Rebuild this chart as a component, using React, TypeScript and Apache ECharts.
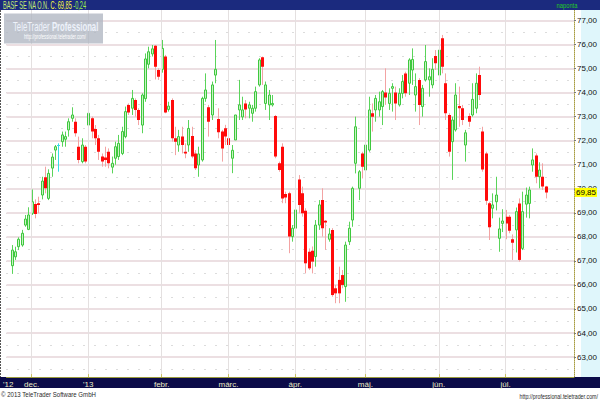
import React, { useEffect, useRef } from 'react';
import * as echarts from 'echarts';

// ---- categories: trading days (Xetra) ----
const TRADING_DAYS: [string, number[]][] = [
  ['2012-11', [23, 26, 27, 28, 29, 30]],
  ['2012-12', [3, 4, 5, 6, 7, 10, 11, 12, 13, 14, 17, 18, 19, 20, 21, 27, 28]],
  ['2013-01', [2, 3, 4, 7, 8, 9, 10, 11, 14, 15, 16, 17, 18, 21, 22, 23, 24, 25, 28, 29, 30, 31]],
  ['2013-02', [1, 4, 5, 6, 7, 8, 11, 12, 13, 14, 15, 18, 19, 20, 21, 22, 25, 26, 27, 28]],
  ['2013-03', [1, 4, 5, 6, 7, 8, 11, 12, 13, 14, 15, 18, 19, 20, 21, 22, 25, 26, 27, 28]],
  ['2013-04', [2, 3, 4, 5, 8, 9, 10, 11, 12, 15, 16, 17, 18, 19, 22, 23, 24, 25, 26, 29, 30]],
  ['2013-05', [2, 3, 6, 7, 8, 9, 10, 13, 14, 15, 16, 17, 20, 21, 22, 23, 24, 27, 28, 29, 30, 31]],
  ['2013-06', [3, 4, 5, 6, 7, 10, 11, 12, 13, 14, 17, 18, 19, 20, 21, 24, 25, 26, 27, 28]],
  ['2013-07', [1, 2, 3, 4, 5, 8, 9, 10, 11, 12, 15, 16, 17]],
];
const LEAD_DAYS = ['2012-11-22'];
const TRAIL_DAYS = ['2013-07-18', '2013-07-19', '2013-07-22', '2013-07-23', '2013-07-24', '2013-07-25', '2013-07-26', '2013-07-29'];

const MONTH_LABELS: Record<string, string> = {
  '2012-11-22': "'12",
  '2012-12-03': 'dec.',
  '2013-01-02': "'13",
  '2013-02-01': 'febr.',
  '2013-03-01': 'márc.',
  '2013-04-02': 'ápr.',
  '2013-05-02': 'máj.',
  '2013-06-03': 'jún.',
  '2013-07-01': 'júl.',
};
const MONTH_STARTS = ['2012-12-03', '2013-01-02', '2013-02-01', '2013-03-01', '2013-04-02', '2013-05-02', '2013-06-03', '2013-07-01'];

// ---- OHLC values ----
const OPEN = [66.80, 67.17, 67.59, 67.66, 68.49, 68.31, 68.98, 69.37, 69.40, 69.74,
  70.48, 69.60, 70.86, 71.61, 71.80, 71.96, 72.06, 72.45, 72.93, 72.79,
  71.75, 71.13, 71.75, 72.65, 72.93, 72.49, 72.10, 71.34, 71.30, 71.54,
  70.90, 71.27, 71.34, 71.47, 72.17, 73.49, 73.35, 73.69, 73.28, 72.65,
  73.75, 75.18, 75.61, 75.95, 74.94, 74.97, 75.50, 73.30, 73.69, 72.10,
  71.82, 72.17, 71.54, 71.82, 72.20, 71.47, 70.99, 71.20, 73.76, 73.39,
  73.07, 74.73, 72.90, 72.38, 72.52, 72.10, 71.27, 72.03, 73.28, 72.99,
  73.55, 73.35, 73.14, 73.35, 74.32, 75.47, 73.55, 73.49, 73.49, 73.03,
  71.06, 71.75, 69.78, 69.81, 68.01, 68.36, 70.39, 69.81, 69.09, 67.38,
  67.42, 67.18, 68.49, 69.53, 68.67, 67.90, 68.29, 65.86, 66.21, 66.41,
  65.93, 67.80, 68.70, 71.06, 70.02, 71.47, 70.78, 71.61, 73.14, 73.28,
  73.28, 73.42, 74.00, 73.55, 74.18, 74.00, 73.49, 73.97, 74.80, 74.39,
  74.94, 73.90, 74.53, 73.42, 74.53, 74.53, 74.32, 75.52, 74.73, 76.26,
  74.39, 73.07, 71.96, 72.45, 73.44, 73.35, 71.82, 73.03, 73.07, 73.35,
  74.73, 72.38, 71.47, 69.40, 69.19, 69.46, 67.94, 68.56, 68.84, 68.84,
  67.90, 68.29, 69.39, 67.52, 69.36, 69.39, 70.99, 71.38, 70.50, 70.50,
  70.09];
const HIGH = [67.66, 67.59, 67.98, 68.29, 68.91, 69.23, 69.97, 69.56, 69.67, 70.50,
  70.92, 70.81, 71.47, 71.82, 71.89, 72.38, 72.38, 72.93, 73.39, 72.93,
  72.17, 72.10, 71.82, 73.21, 73.00, 72.65, 72.24, 71.47, 71.75, 71.68,
  71.34, 71.96, 72.24, 72.58, 73.42, 73.55, 74.11, 73.76, 73.35, 73.97,
  75.63, 75.91, 75.98, 75.98, 75.01, 76.19, 75.57, 73.62, 73.76, 72.58,
  72.45, 72.58, 71.89, 72.86, 72.58, 71.61, 71.75, 73.83, 74.80, 73.49,
  74.46, 76.19, 73.35, 72.45, 72.66, 72.38, 71.82, 73.07, 74.53, 73.83,
  73.69, 73.62, 73.49, 74.25, 75.43, 75.50, 74.46, 74.11, 73.90, 73.07,
  71.13, 71.89, 69.88, 69.88, 68.49, 69.26, 70.57, 70.09, 69.19, 67.52,
  67.60, 68.70, 69.53, 70.02, 68.70, 68.36, 68.36, 66.00, 66.76, 66.62,
  67.80, 68.63, 70.09, 73.00, 70.78, 71.54, 72.51, 73.83, 73.55, 73.90,
  74.04, 74.11, 75.01, 74.18, 74.39, 74.25, 74.18, 74.73, 74.87, 75.43,
  75.84, 74.80, 74.60, 74.32, 75.98, 75.01, 75.43, 75.77, 76.26, 76.40,
  74.80, 73.14, 73.00, 74.39, 74.25, 73.49, 72.45, 73.14, 74.39, 74.80,
  75.08, 72.58, 71.54, 69.46, 69.81, 70.50, 68.80, 69.15, 69.12, 68.91,
  68.10, 69.22, 69.60, 69.88, 70.05, 70.09, 71.68, 71.47, 71.10, 71.06,
  70.12];
const LOW = [66.46, 67.04, 67.45, 67.59, 68.42, 68.28, 68.91, 68.77, 68.98, 69.56,
  69.81, 69.53, 70.50, 71.20, 70.71, 71.75, 71.75, 72.17, 72.79, 72.17,
  71.06, 71.06, 71.06, 72.24, 72.10, 71.82, 71.20, 70.92, 70.92, 70.85,
  70.64, 71.00, 71.20, 71.40, 72.10, 73.07, 73.07, 73.00, 72.65, 72.31,
  73.62, 75.01, 75.50, 74.55, 74.53, 74.83, 73.14, 73.21, 71.96, 71.40,
  71.54, 71.47, 71.27, 71.54, 71.27, 70.78, 70.50, 71.13, 73.62, 72.17,
  72.86, 74.39, 72.10, 71.13, 71.82, 70.78, 70.65, 72.03, 72.86, 72.86,
  72.93, 72.93, 72.79, 73.21, 74.25, 74.32, 73.28, 72.86, 73.42, 71.27,
  70.71, 69.40, 69.40, 67.32, 67.80, 68.22, 68.98, 68.84, 66.48, 66.62,
  66.48, 66.76, 68.29, 68.01, 67.46, 67.80, 65.51, 65.24, 65.24, 65.86,
  65.30, 67.66, 68.42, 70.64, 69.53, 70.43, 70.37, 71.54, 72.38, 72.79,
  73.00, 72.65, 73.49, 73.28, 73.21, 72.86, 73.42, 73.76, 73.83, 73.90,
  74.32, 73.21, 72.65, 73.00, 74.46, 73.83, 74.18, 74.94, 74.18, 74.80,
  72.86, 71.34, 70.37, 72.38, 72.58, 72.65, 71.13, 72.58, 73.00, 73.14,
  73.69, 70.71, 69.33, 67.87, 68.77, 69.10, 67.38, 68.20, 67.90, 68.15,
  67.04, 67.35, 66.97, 67.45, 68.80, 68.77, 70.71, 70.23, 70.02, 69.95,
  69.60];
const CLOSE = [67.45, 67.38, 67.90, 68.15, 68.74, 68.91, 69.46, 68.95, 69.33, 70.32,
  70.02, 70.64, 71.32, 71.75, 71.80, 72.24, 72.17, 72.79, 73.07, 72.31,
  71.20, 71.82, 71.13, 73.14, 72.38, 72.10, 71.54, 71.13, 71.20, 71.06,
  71.06, 71.75, 71.89, 72.38, 73.21, 73.17, 73.76, 73.28, 72.86, 73.90,
  75.40, 75.70, 75.82, 75.08, 74.66, 75.84, 73.17, 73.44, 72.10, 71.96,
  72.17, 71.82, 71.47, 72.51, 71.34, 70.85, 71.45, 73.76, 74.11, 72.79,
  74.32, 74.97, 72.35, 71.68, 72.17, 71.82, 71.60, 73.07, 73.49, 73.28,
  73.30, 73.49, 73.35, 74.04, 75.36, 75.08, 74.32, 73.90, 73.55, 71.34,
  70.78, 69.60, 69.64, 68.01, 68.36, 69.12, 69.33, 68.98, 66.90, 66.69,
  66.97, 68.49, 69.33, 68.36, 68.60, 68.12, 65.58, 65.65, 65.65, 66.00,
  67.66, 68.36, 70.02, 72.58, 70.71, 70.92, 71.82, 73.28, 73.00, 73.76,
  73.62, 74.04, 73.80, 73.97, 74.25, 73.55, 73.97, 74.46, 73.97, 75.36,
  75.38, 74.25, 73.49, 74.18, 75.29, 74.66, 74.97, 75.22, 75.77, 75.08,
  73.14, 71.54, 72.86, 73.90, 73.35, 72.86, 72.33, 72.79, 73.72, 74.39,
  73.90, 70.80, 69.50, 68.40, 69.33, 69.74, 68.33, 68.66, 68.56, 68.25,
  67.75, 69.05, 67.04, 69.05, 69.74, 69.95, 71.20, 70.50, 70.78, 70.09,
  69.85];

const Y_MIN = 62;
const Y_MAX = 77.5;

const FONT = "'Liberation Sans Narrow','Arial Narrow','Liberation Sans',sans-serif";

const pad2 = (n: number) => String(n).padStart(2, '0');
const DATES = TRADING_DAYS.flatMap(([m, days]) => days.map((d) => `${m}-${pad2(d)}`));
const CATEGORIES = [...LEAD_DAYS, ...DATES, ...TRAIL_DAYS];
const CANDLES = DATES.map((d, i) => [d, OPEN[i], CLOSE[i], LOW[i], HIGH[i]]);

const fmt = (v: number) => v.toFixed(2).replace('.', ',');
const LAST = CLOSE[CLOSE.length - 1];
const PREV = CLOSE[CLOSE.length - 2];

function renderCandle(_params: any, api: any) {
  const x = api.value(0);
  const o = api.value(1);
  const c = api.value(2);
  const l = api.value(3);
  const h = api.value(4);
  const pO = api.coord([x, o]);
  const pC = api.coord([x, c]);
  const pL = api.coord([x, l]);
  const pH = api.coord([x, h]);
  const cx = Math.round(pO[0]) + 0.5;
  const up = c > o;
  const doji = c === o;
  const wick = doji ? '#36dce6' : up ? '#5ad45a' : '#f3a3a3';
  const top = Math.min(pO[1], pC[1]);
  const bh = Math.max(1, Math.abs(pO[1] - pC[1]));
  const children: any[] = [
    { type: 'line', shape: { x1: cx, y1: pH[1], x2: cx, y2: pL[1] }, style: { stroke: wick, lineWidth: 1 } },
  ];
  if (doji) {
    children.push({ type: 'line', shape: { x1: cx - 1.5, y1: top, x2: cx + 1.5, y2: top }, style: { stroke: wick, lineWidth: 1 } });
  } else if (up) {
    children.push({ type: 'rect', shape: { x: cx - 1, y: top, width: 2, height: bh }, style: { fill: '#c9f2c4', stroke: '#3ec83e', lineWidth: 1 } });
  } else {
    children.push({ type: 'rect', shape: { x: cx - 1.5, y: top, width: 3, height: bh }, style: { fill: '#ff0a0a' } });
  }
  return { type: 'group', children };
}

const txt = (text: string, x: number, y: number, scaleX: number, extra: any = {}) => ({
  type: 'text',
  x,
  y,
  scaleX,
  z: 30,
  silent: true,
  style: {
    text,
    fontFamily: FONT,
    fontSize: 8,
    fill: '#222',
    align: 'left',
    textAlign: 'left',
    verticalAlign: 'middle',
    textVerticalAlign: 'middle',
    ...extra,
  },
});

const option: any = {
  animation: false,
  backgroundColor: '#ffffff',
  grid: { left: 2, right: 19, top: 8.48, bottom: 18.9, containLabel: false },
  xAxis: {
    type: 'category',
    data: CATEGORIES,
    boundaryGap: true,
    offset: -4,
    z: 20,
    axisLine: { show: true, lineStyle: { color: '#9a9a3c', width: 1 } },
    axisTick: {
      show: true,
      alignWithLabel: true,
      inside: true,
      length: 3,
      interval: (_i: number, v: string) => MONTH_STARTS.includes(v),
      lineStyle: { color: '#c8c060' },
    },
    axisLabel: {
      show: true,
      color: '#ecebc6',
      fontSize: 8,
      fontFamily: FONT,
      margin: 3,
      interval: (_i: number, v: string) => v in MONTH_LABELS,
      formatter: (v: string) => MONTH_LABELS[v] ?? '',
    },
    splitLine: { show: false },
  },
  yAxis: [
    {
      type: 'value',
      position: 'right',
      min: Y_MIN,
      max: Y_MAX,
      interval: 1,
      z: 1,
      axisLine: { show: true, lineStyle: { color: '#a89c40', type: [1, 1] } },
      axisTick: { show: true, length: 2, lineStyle: { color: '#777' } },
      axisLabel: {
        color: '#111',
        fontSize: 8,
        fontFamily: FONT,
        margin: 3,
        formatter: (v: number) => (Math.abs(v - Math.round(v)) < 1e-6 ? fmt(v) : ''),
      },
      splitLine: { show: true, lineStyle: { color: '#ecdfe2', width: 2 } },
    },
    {
      type: 'value',
      position: 'right',
      min: Y_MIN,
      max: Y_MAX,
      interval: 0.5,
      z: 0,
      axisLine: { show: false },
      axisTick: { show: false },
      axisLabel: { show: false },
      splitLine: { show: true, lineStyle: { color: '#b9b9b9', width: 1, type: [1, 10] } },
    },
  ],
  series: [
    {
      type: 'line',
      data: [],
      z: 2,
      silent: true,
      markLine: {
        silent: true,
        symbol: ['none', 'none'],
        animation: false,
        data: [
          ...MONTH_STARTS.map((d) => ({
            xAxis: d,
            lineStyle: { color: '#e4e0e0', width: 1, type: 'solid' },
            label: { show: false },
          })),
          {
            yAxis: LAST,
            lineStyle: { color: 'rgba(0,0,0,0)', width: 0 },
            label: {
              show: true,
              position: 'end',
              distance: 1,
              formatter: fmt(LAST),
              backgroundColor: '#ffff00',
              color: '#000',
              fontSize: 8,
              fontFamily: FONT,
              padding: [1, 1, 0, 1],
            },
          },
        ],
      },
    },
    {
      type: 'custom',
      z: 3,
      renderItem: renderCandle,
      data: CANDLES,
      encode: { x: 0, y: [1, 2, 3, 4] },
      clip: true,
    },
  ],
  graphic: [
    // right value panel
    { type: 'rect', z: 0, silent: true, shape: { x: 581, y: 10, width: 19, height: 367 }, style: { fill: '#dff6fb' } },
    // title bar
    { type: 'rect', z: 15, silent: true, shape: { x: 0, y: 0, width: 600, height: 10 }, style: { fill: '#1b2a7e' } },
    {
      type: 'text', x: 3, y: 5.5, z: 30, scaleX: 0.56, silent: true,
      style: {
        text: `{a|BASF SE NA O.N.} {b|C: ${fmt(LAST)}} {c|${fmt(LAST - PREV)}}`,
        fontFamily: FONT, fontSize: 10, verticalAlign: 'middle', textVerticalAlign: 'middle',
        rich: {
          a: { fill: '#c6ea72', fontFamily: FONT, fontSize: 10 },
          b: { fill: '#ffff3c', fontFamily: FONT, fontSize: 10 },
          c: { fill: '#9cf04a', fontFamily: FONT, fontSize: 10 },
        },
      },
    },
    txt('naponta', 567, 5, 0.72, { fill: '#22cc22', align: 'center', textAlign: 'center' }),
    // bottom time bar
    { type: 'rect', z: 15, silent: true, shape: { x: 0, y: 377, width: 600, height: 11 }, style: { fill: '#0b0b48' } },
    // left ruler edge
    { type: 'line', z: 16, silent: true, shape: { x1: 0.5, y1: 10, x2: 0.5, y2: 377 }, style: { stroke: '#555', lineWidth: 1, lineDash: [2, 1] } },
    // watermark
    { type: 'rect', z: 25, silent: true, shape: { x: 4, y: 13.5, width: 99, height: 30 }, style: { fill: 'rgba(176,182,194,0.78)' } },
    {
      type: 'text', x: 13, y: 27, z: 30, scaleX: 0.62, silent: true,
      style: {
        text: '{n|TeleTrader }{b|Professional}',
        verticalAlign: 'middle', textVerticalAlign: 'middle',
        rich: {
          n: { fill: '#eef2fb', fontFamily: FONT, fontSize: 12.5 },
          b: { fill: '#eef2fb', fontFamily: FONT, fontSize: 12.5, fontWeight: 'bold' },
        },
      },
    },
    txt('http://professional.teletrader.com/', 24, 36.5, 0.6, { fill: '#ffffff', fontSize: 7 }),
    // footer
    txt('© 2013 TeleTrader Software GmbH', 1, 395, 0.76, { fill: '#2a2a2a', fontSize: 8 }),
    txt('http://professional.teletrader.com/', 598, 396, 0.76, { fill: '#2a2a2a', fontSize: 7, align: 'right', textAlign: 'right' }),
  ],
};

export default function App() {
  const ref = useRef<HTMLDivElement>(null);
  useEffect(() => {
    if (!ref.current) return;
    const chart = echarts.init(ref.current, undefined, { renderer: 'svg' });
    chart.setOption(option);
    return () => chart.dispose();
  }, []);
  return <div ref={ref} style={{ position: 'fixed', left: 0, top: 0, width: 600, height: 400, background: '#fff' }} />;
}
